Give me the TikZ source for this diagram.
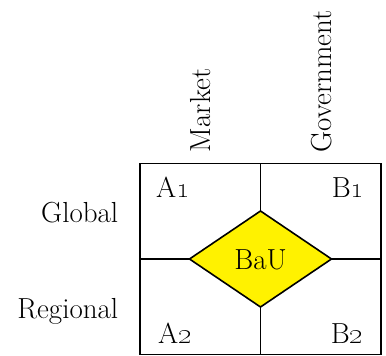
\documentclass[tikz,border=0pt]{standalone}
\usetikzlibrary{shapes.geometric}
\begin{document}
\begin{tikzpicture}[x=1pt,y=1pt,line width=1.6pt,
  lbl/.style={inner sep=0pt,font=\fontsize{29}{34}\selectfont},
  side/.style={lbl,anchor=base east},
  head/.style={lbl,rotate=90,anchor=base west}]
\useasboundingbox (0,0) rectangle (386,-356);
% quadrants
\node[draw,minimum width=241pt,minimum height=191pt,inner sep=0pt,outer sep=0pt] (frame) at (260.5,-259) {};
\node[diamond,draw,fill=yellow,minimum width=142pt,minimum height=96pt,inner sep=0pt,outer sep=0pt] (bau) at (260.5,-259) {};
\node[lbl,anchor=base] (baulbl) at (260.5,-269) {BaU};
\draw (frame.north)--(bau.north);
\draw (bau.south)--(frame.south);
\draw (frame.west)--(bau.west);
\draw (bau.east)--(frame.east);
% corner labels
\node[lbl,anchor=base] (a1) at (173,-197) {A\oldstylenums{1}};
\node[lbl,anchor=base] (b1) at (348,-197) {B\oldstylenums{1}};
\node[lbl,anchor=base] (a2) at (175,-343) {A\oldstylenums{2}};
\node[lbl,anchor=base] (b2) at (347,-343) {B\oldstylenums{2}};
% axes
\node[side] (global) at (119,-222) {Global};
\node[side] (regional) at (119,-318) {Regional};
\node[head] (market) at (210,-153) {Market};
\node[head] (government) at (331.5,-153) {Government};
\end{tikzpicture}
\end{document}
